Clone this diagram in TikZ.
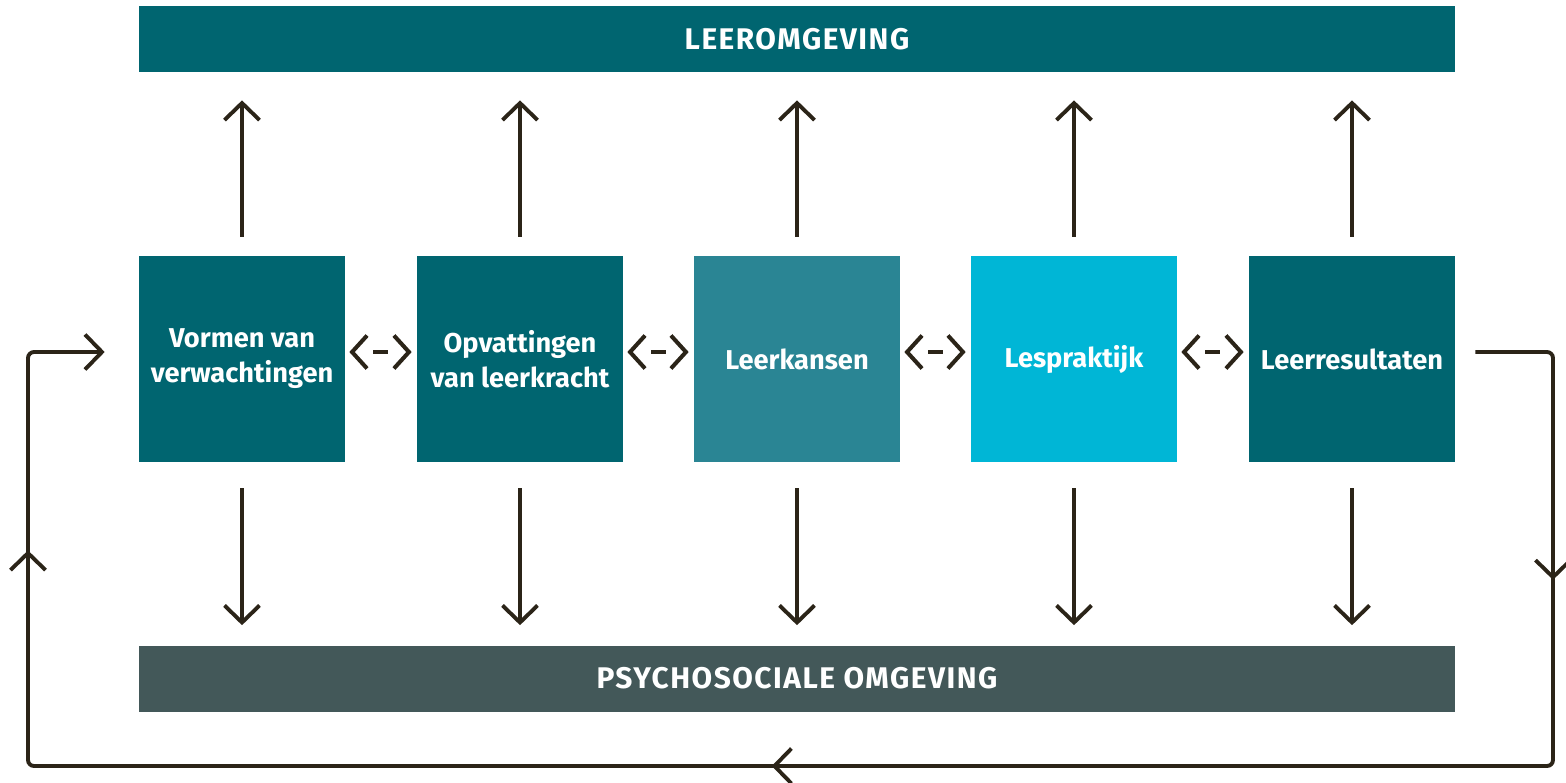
\documentclass[tikz,border=0pt]{standalone}
\usepackage{fontspec}
\setmainfont{Fira Sans}
\newfontfamily\barfont[LetterSpace=5]{Fira Sans}
\usetikzlibrary{arrows.meta,decorations.markings}
\definecolor{teal1}{RGB}{0,101,112}
\definecolor{teal2}{RGB}{42,133,148}
\definecolor{cyan1}{RGB}{0,182,214}
\definecolor{slate}{RGB}{67,88,89}
\definecolor{ink}{RGB}{43,36,24}
\tikzset{
  box/.style={minimum width=4.12cm, minimum height=4.12cm, inner sep=0pt, text=white, font=\bfseries\fontsize{15.5}{20}\selectfont, align=center},
  bar/.style={minimum width=26.32cm, minimum height=1.32cm, inner sep=0pt, text=white, font=\barfont\bfseries\fontsize{17}{20}\selectfont},
  arr/.style={draw=ink, line width=2.2pt, -{Straight Barb[length=0.34cm,width=0.7cm]}},
  dbl/.style={draw=ink, line width=2.3pt, {Straight Barb[length=0.3cm,width=0.66cm]}-{Straight Barb[length=0.3cm,width=0.66cm]}, dash pattern=on 0cm off 0.38cm on 0.3cm off 2cm},
  loop/.style={draw=ink, line width=2.2pt, rounded corners=0.12cm, -{Straight Barb[length=0.34cm,width=0.7cm]},
    postaction={decorate}, decoration={markings,
      mark=at position 6.06cm with {\arrow{Straight Barb[length=0.34cm,width=0.7cm]}},
      mark=at position 25.36cm with {\arrow{Straight Barb[length=0.34cm,width=0.7cm]}},
      mark=at position 44.5cm with {\arrow{Straight Barb[length=0.34cm,width=0.7cm]}}}}
}
\begin{document}
\begin{tikzpicture}[x=0.02cm,y=-0.02cm]
\useasboundingbox (0,0) rectangle (1566,782);
\node[bar, fill=teal1] (top) at (797,39) {LEEROMGEVING};
\node[bar, fill=slate] (bot) at (797,678.5) {PSYCHOSOCIALE OMGEVING};
\node[box, fill=teal1] (b1) at (242,359) {Vormen van\\verwachtingen};
\node[box, fill=teal1] (b2) at (520,359) {Opvattingen\\van leerkracht};
\node[box, fill=teal2] (b3) at (797,359) {Leerkansen};
\node[box, fill=cyan1] (b4) at (1074,359) {Lespraktijk};
\node[box, fill=teal1] (b5) at (1352,359) {Leerresultaten};
\foreach \b in {b1,b2,b3,b4,b5}{
  \draw[arr] ([yshift=0.38cm]\b.north) -- ([yshift=-0.56cm]\b.north |- top.south);
  \draw[arr] ([yshift=-0.52cm]\b.south) -- ([yshift=0.4cm]\b.south |- bot.north);
}
\foreach \a/\b in {b1/b2,b2/b3,b3/b4,b4/b5}{
  \draw[dbl] ([xshift=0.08cm,yshift=0.14cm]\a.east) -- ([xshift=-0.1cm,yshift=0.14cm]\b.west);
}
\coordinate (ls) at ([xshift=0.4cm,yshift=0.14cm]b5.east);
\coordinate (le) at ([xshift=-0.68cm,yshift=0.14cm]b1.west);
\draw[loop] (ls) -- (1553,352) -- (1553,766) -- (28,766) -- (28,352) -- (le);
\end{tikzpicture}
\end{document}
